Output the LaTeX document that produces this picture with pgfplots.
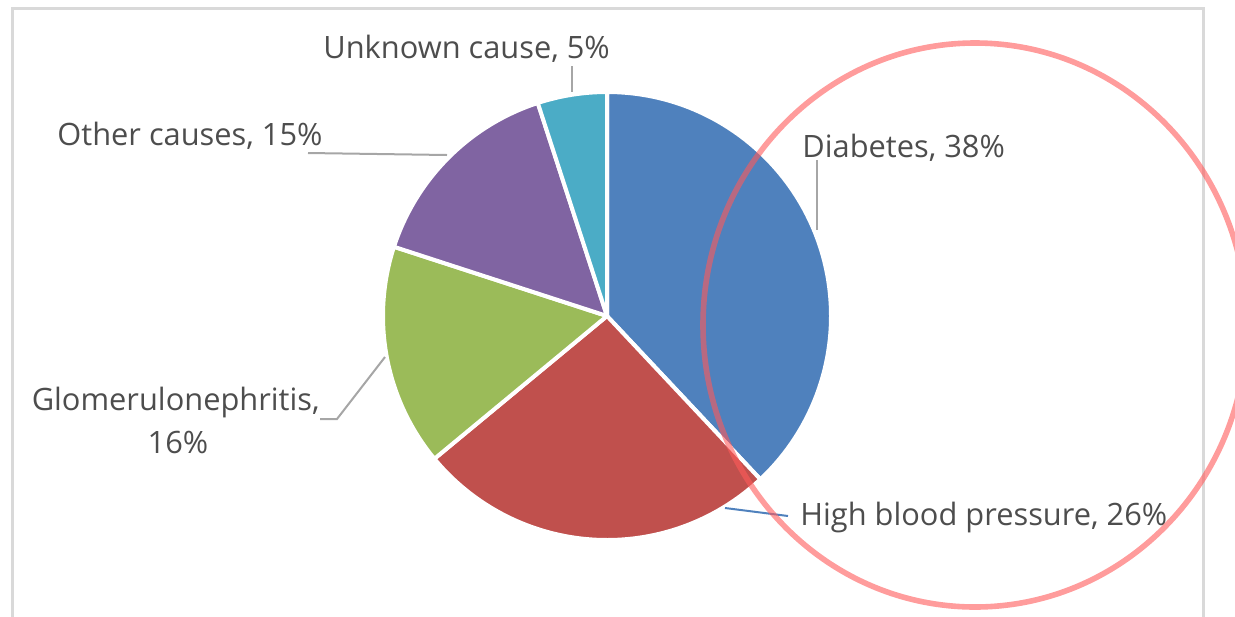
\documentclass[border=0pt]{standalone}
\usepackage{pgfplots}
\pgfplotsset{compat=1.18}
\usepackage{fontspec}
\setmainfont{Open Sans}

\definecolor{diab}{HTML}{4F81BD}
\definecolor{hbp}{HTML}{C0504D}
\definecolor{glom}{HTML}{9BBB59}
\definecolor{oth}{HTML}{8064A2}
\definecolor{unk}{HTML}{4BACC6}
\definecolor{lbl}{HTML}{4D4D4D}
\definecolor{leader}{HTML}{A6A6A6}
\definecolor{frame}{HTML}{D9D9D9}
\definecolor{marker}{HTML}{FF5A5A}

% causes of kidney failure, percent (clockwise from 12 o'clock)
\def\vDiab{38}
\def\vHbp{26}
\def\vGlom{16}
\def\vOth{15}
\def\vUnk{5}

\begin{document}
\begin{tikzpicture}
\begin{axis}[
  width=617.5pt, height=308pt, scale only axis,
  xmin=0, xmax=1235, ymin=0, ymax=616, y dir=reverse,
  hide axis, clip=false,
]
% chart frame
\draw[frame, line width=1.5pt] (axis cs:12,8) rectangle (axis cs:1203,640);

% pie slices: centre (607,316), radius 224 px = 112pt
\def\R{112pt}
\pgfmathsetmacro{\aA}{90}
\pgfmathsetmacro{\aB}{90-3.6*\vDiab}
\pgfmathsetmacro{\aC}{\aB-3.6*\vHbp}
\pgfmathsetmacro{\aD}{\aC-3.6*\vGlom}
\pgfmathsetmacro{\aE}{\aD-3.6*\vOth}
\pgfmathsetmacro{\aF}{\aE-3.6*\vUnk}
\filldraw[fill=diab, draw=white, line width=2pt, line join=round]
  (axis cs:607,316) -- ++(\aA:\R) arc[start angle=\aA, end angle=\aB, radius=\R] -- cycle;
\filldraw[fill=hbp, draw=white, line width=2pt, line join=round]
  (axis cs:607,316) -- ++(\aB:\R) arc[start angle=\aB, end angle=\aC, radius=\R] -- cycle;
\filldraw[fill=glom, draw=white, line width=2pt, line join=round]
  (axis cs:607,316) -- ++(\aC:\R) arc[start angle=\aC, end angle=\aD, radius=\R] -- cycle;
\filldraw[fill=oth, draw=white, line width=2pt, line join=round]
  (axis cs:607,316) -- ++(\aD:\R) arc[start angle=\aD, end angle=\aE, radius=\R] -- cycle;
\filldraw[fill=unk, draw=white, line width=2pt, line join=round]
  (axis cs:607,316) -- ++(\aE:\R) arc[start angle=\aE, end angle=\aF, radius=\R] -- cycle;

% leader lines
\draw[leader, line width=1pt] (axis cs:572,66) -- (axis cs:572,92);
\draw[leader, line width=1pt] (axis cs:308,153) -- (axis cs:447,155);
\draw[leader, line width=1pt] (axis cs:817,160) -- (axis cs:817,230);
\draw[leader, line width=1pt] (axis cs:320,419) -- (axis cs:337,419) -- (axis cs:385,357);
\draw[diab, line width=1pt] (axis cs:725,508) -- (axis cs:788,516);

% data labels
\begin{scope}[every node/.style={text=lbl, font=\fontsize{15.4pt}{18pt}\selectfont, inner sep=0pt}]
\node[anchor=base west] at (axis cs:323,58) {Unknown cause, \vUnk\%};
\node[anchor=base west] at (axis cs:57,145) {Other causes, \vOth\%};
\node[anchor=base west] at (axis cs:802,157) {Diabetes, \vDiab\%};
\node[anchor=base east] at (axis cs:320,410) {Glomerulonephritis,};
\node[anchor=base] at (axis cs:178,453) {\vGlom\%};
\node[anchor=base west] at (axis cs:800,525) {High blood pressure, \vHbp\%};
\end{scope}

% hand-drawn highlight ring
\draw[marker, opacity=0.6, line width=2.8pt]
  (axis cs:975,325) ellipse[x radius=136pt, y radius=141pt];
\end{axis}
\pgfresetboundingbox
\path (0,0) rectangle (617.5pt,308pt);
\end{tikzpicture}
\end{document}
